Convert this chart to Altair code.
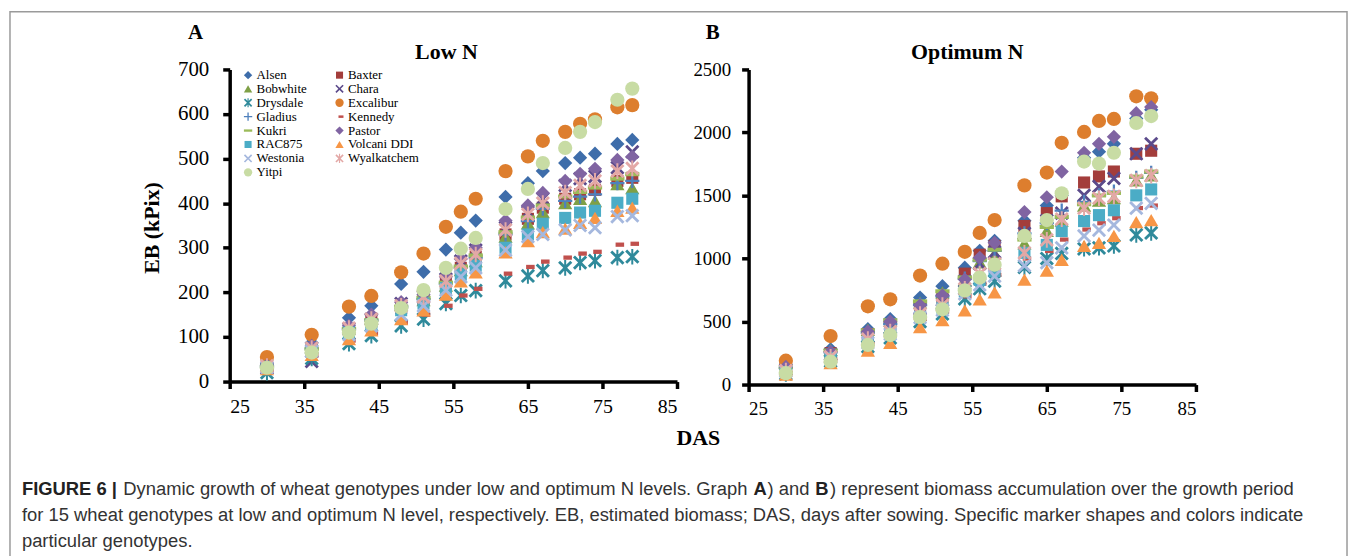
import altair as alt
import pandas as pd

# ---------------- data ----------------
das = [30, 36, 41, 44, 48, 51, 54, 56, 58, 62, 65, 67, 70, 72, 74, 77, 79]
genotypes = ["Alsen", "Baxter", "Bobwhite", "Chara", "Drysdale", "Excalibur", "Gladius",
             "Kennedy", "Kukri", "Pastor", "RAC875", "Volcani DDI", "Westonia",
             "Wyalkatchem", "Yitpi"]

# Low N (EB, kPix)
low_alsen = [38, 87, 143, 170, 219, 246, 296, 334, 361, 414, 445, 472, 490, 502, 511, 533, 542]
low_baxter = [34, 72, 115, 135, 165, 185, 220, 255, 280, 330, 365, 390, 410, 420, 430, 450, 457]
low_bobwhite = [37, 78, 122, 142, 172, 183, 215, 250, 270, 325, 355, 380, 400, 410, 405, 443, 434]
low_chara = [30, 45, 118, 140, 175, 190, 230, 270, 295, 345, 380, 410, 440, 455, 460, 480, 515]
low_drysdale = [20, 52, 85, 103, 125, 140, 175, 193, 204, 226, 237, 249, 255, 267, 271, 278, 280]
low_excalibur = [55, 105, 168, 192, 245, 287, 347, 381, 410, 472, 505, 540, 560, 578, 588, 615, 620]
low_gladius = [34, 74, 118, 138, 168, 185, 220, 255, 278, 330, 360, 388, 405, 415, 420, 445, 450]
low_kennedy = [25, 58, 92, 108, 132, 150, 170, 193, 208, 242, 257, 269, 278, 287, 291, 307, 309]
low_kukri = [33, 73, 118, 138, 168, 188, 222, 258, 283, 335, 368, 395, 415, 425, 435, 455, 465]
low_pastor = [36, 80, 125, 150, 178, 195, 235, 275, 300, 361, 395, 423, 450, 466, 477, 497, 504]
low_rac875 = [33, 70, 110, 128, 160, 175, 210, 240, 260, 300, 330, 354, 367, 379, 383, 401, 410]
low_volcani = [28, 60, 95, 115, 140, 160, 195, 225, 245, 290, 315, 335, 343, 356, 367, 383, 390]
low_westonia = [32, 68, 105, 125, 150, 170, 205, 235, 255, 295, 325, 330, 340, 350, 345, 370, 372]
low_wyalkatchem = [35, 75, 120, 140, 170, 190, 225, 265, 285, 340, 375, 400, 424, 440, 450, 472, 478]
low_yitpi = [31, 65, 110, 130, 165, 205, 255, 298, 322, 387, 432, 490, 524, 560, 582, 632, 657]

# Optimum N (EB, kPix)
opt_alsen = [150, 280, 440, 520, 690, 780, 927, 1061, 1140, 1300, 1420, 1500, 1800, 1847, 1910, 2110, 2180]
opt_baxter = [130, 250, 400, 470, 620, 690, 880, 1030, 1100, 1258, 1360, 1493, 1603, 1651, 1690, 1831, 1855]
opt_bobwhite = [145, 275, 435, 505, 650, 730, 830, 970, 1040, 1120, 1220, 1300, 1420, 1460, 1480, 1620, 1660]
opt_chara = [120, 240, 380, 450, 600, 670, 820, 960, 1050, 1200, 1300, 1360, 1501, 1572, 1635, 1831, 1910]
opt_drysdale = [85, 185, 300, 370, 500, 560, 680, 760, 820, 930, 1000, 1040, 1077, 1085, 1100, 1187, 1203]
opt_excalibur = [189, 385, 621, 676, 865, 959, 1053, 1203, 1305, 1580, 1682, 1918, 2004, 2091, 2107, 2287, 2271]
opt_gladius = [130, 255, 410, 480, 630, 700, 840, 980, 1060, 1200, 1280, 1380, 1450, 1500, 1530, 1640, 1680]
opt_kennedy = [95, 200, 320, 390, 520, 580, 700, 800, 870, 1000, 1060, 1150, 1230, 1280, 1320, 1400, 1420]
opt_kukri = [140, 270, 430, 510, 660, 740, 850, 990, 1070, 1150, 1250, 1330, 1430, 1500, 1520, 1650, 1690]
opt_pastor = [140, 260, 420, 500, 629, 707, 833, 1006, 1124, 1368, 1486, 1690, 1839, 1910, 1965, 2153, 2201]
opt_rac875 = [100, 210, 340, 410, 540, 610, 740, 830, 900, 1045, 1108, 1218, 1297, 1344, 1383, 1501, 1548]
opt_volcani = [80, 170, 270, 330, 456, 511, 589, 676, 731, 833, 904, 990, 1100, 1124, 1179, 1289, 1305]
opt_westonia = [105, 215, 330, 400, 530, 590, 720, 790, 860, 943, 967, 1085, 1179, 1226, 1265, 1399, 1438]
opt_wyalkatchem = [110, 220, 360, 420, 560, 630, 760, 880, 960, 1045, 1148, 1313, 1399, 1478, 1493, 1619, 1658]
opt_yitpi = [90, 181, 314, 393, 534, 597, 747, 849, 951, 1179, 1305, 1517, 1769, 1753, 1839, 2075, 2130]

x_ticks = [25, 35, 45, 55, 65, 75, 85]
y_ticks_low = [0, 100, 200, 300, 400, 500, 600, 700]
y_ticks_opt = [0, 500, 1000, 1500, 2000, 2500]

colors = ["#3E6DAA", "#A33D3B", "#7FA046", "#5B4A8B", "#2F8A9B", "#DD7E2E", "#4F81BD",
          "#C0504D", "#9BBB59", "#8064A2", "#4BACC6", "#F79646", "#A5B8DE",
          "#E3A8A6", "#C8DCA4"]

X_PATH = ("M-1,-0.72L-0.72,-1L0,-0.28L0.72,-1L1,-0.72L0.28,0L1,0.72L0.72,1"
          "L0,0.28L-0.72,1L-1,0.72L-0.28,0Z")
STAR_PATH = X_PATH + "M-0.14,-1.1H0.14V1.1H-0.14Z"
PLUS_PATH = "M-0.16,-1H0.16V-0.16H1V0.16H0.16V1H-0.16V0.16H-1V-0.16H-0.16Z"
SQUARE_PATH = "M-0.85,-0.85H0.85V0.85H-0.85Z"
SHORT_DASH = "M-0.25,-0.3H0.95V0.3H-0.25Z"
LONG_DASH = "M-1,-0.28H1V0.28H-1Z"
shapes = ["diamond", SQUARE_PATH, "triangle-up", X_PATH, STAR_PATH, "circle", PLUS_PATH,
          SHORT_DASH, LONG_DASH, "diamond", SQUARE_PATH, "triangle-up", X_PATH,
          STAR_PATH, "circle"]

low_series = [low_alsen, low_baxter, low_bobwhite, low_chara, low_drysdale, low_excalibur,
              low_gladius, low_kennedy, low_kukri, low_pastor, low_rac875, low_volcani,
              low_westonia, low_wyalkatchem, low_yitpi]
opt_series = [opt_alsen, opt_baxter, opt_bobwhite, opt_chara, opt_drysdale, opt_excalibur,
              opt_gladius, opt_kennedy, opt_kukri, opt_pastor, opt_rac875, opt_volcani,
              opt_westonia, opt_wyalkatchem, opt_yitpi]


def table(series):
    rows = []
    for gi, (g, vals) in enumerate(zip(genotypes, series)):
        for d, v in zip(das, vals):
            rows.append({"Genotype": g, "DAS": d, "EB": v, "idx": gi})
    return pd.DataFrame(rows)


low_df = table(low_series)
opt_df = table(opt_series)

SERIF = "Liberation Serif"
SANS = "Liberation Sans"
one = pd.DataFrame({"a": [0]})

color_scale = alt.Scale(domain=genotypes, range=colors)
shape_scale = alt.Scale(domain=genotypes, range=shapes)

legend = alt.Legend(orient="none", legendX=12, legendY=-1, columns=2, direction="horizontal",
                    title=None, labelFont=SERIF, labelFontSize=13, labelColor="black",
                    symbolSize=70, symbolStrokeWidth=0, symbolOpacity=1, labelOffset=2,
                    columnPadding=26, rowPadding=0, padding=0)


def axis_common(**kw):
    base = dict(domainColor="black", domainWidth=3.5, tickColor="black", tickWidth=3.5,
                tickSize=7, labelFont=SERIF, labelColor="black", grid=False,
                titleFont=SERIF, titleFontWeight="bold", titleColor="black",
                titleFontSize=22)
    base.update(kw)
    return alt.Axis(**base)


def text_mark(txt, x, y, size, bold=False, font=SERIF, align="left", color="black"):
    return alt.Chart(one).mark_text(
        text=txt, font=font, fontSize=size, fontWeight="bold" if bold else "normal",
        align=align, baseline="middle", color=color
    ).encode(x=alt.value(x), y=alt.value(y))


# ---------------- panel A ----------------
pts_a = alt.Chart(low_df).mark_point(filled=True, size=205, opacity=1, strokeWidth=0).encode(
    x=alt.X("DAS:Q", scale=alt.Scale(domain=[25, 85], nice=False, zero=False),
            axis=axis_common(values=x_ticks, labelFontSize=20, labelPadding=8, title="DAS",
                             titleX=471, titleY=56, titleBaseline="middle")),
    y=alt.Y("EB:Q", scale=alt.Scale(domain=[0, 700], nice=False),
            axis=axis_common(values=y_ticks_low, labelFontSize=21, labelPadding=14,
                             title="EB (kPix)", titleX=-79, titleY=159,
                             titleAngle=270, titleAlign="center", titleBaseline="middle")),
    color=alt.Color("Genotype:N", scale=color_scale, legend=legend),
    shape=alt.Shape("Genotype:N", scale=shape_scale, legend=legend),
    order=alt.Order("idx:Q"),
)

frame = alt.Chart(one).mark_rect(fillOpacity=0, stroke="#9a9a9a", strokeWidth=1.5).encode(
    x=alt.value(-221), x2=alt.value(1124), y=alt.value(-58), y2=alt.value(540))

CAP = 18.5
cap_color = "#333333"
caption = [
    text_mark("FIGURE 6 |", -209, 422, CAP, True, SANS, color="#222222"),
    text_mark("Dynamic growth of wheat genotypes under low and optimum N levels. Graph",
              -107, 422, CAP, False, SANS, color=cap_color),
    text_mark("A", 527, 422, CAP, True, SANS, color="#222222"),
    text_mark(") and", 541, 422, CAP, False, SANS, color=cap_color),
    text_mark("B", 589, 422, CAP, True, SANS, color="#222222"),
    text_mark(") represent biomass accumulation over the growth period",
              604, 422, CAP, False, SANS, color=cap_color),
    text_mark("for 15 wheat genotypes at low and optimum N level, respectively. EB, estimated "
              "biomass; DAS, days after sowing. Specific marker shapes and colors indicate",
              -209, 448, CAP, False, SANS, color=cap_color),
    text_mark("particular genotypes.", -209, 474, CAP, False, SANS, color=cap_color),
]

panel_a = alt.layer(
    frame,
    pts_a,
    text_mark("A", -42, -37, 21, True),
    text_mark("Low N", 218, -17, 22, True, align="center"),
    *caption,
).properties(width=450, height=314)

# ---------------- panel B ----------------
pts_b = alt.Chart(opt_df).mark_point(filled=True, size=205, opacity=1, strokeWidth=0).encode(
    x=alt.X("DAS:Q", scale=alt.Scale(domain=[25, 85], nice=False, zero=False),
            axis=axis_common(values=x_ticks, labelFontSize=19, labelPadding=8, title=None)),
    y=alt.Y("EB:Q", scale=alt.Scale(domain=[0, 2500], nice=False),
            axis=axis_common(values=y_ticks_opt, labelFontSize=19, labelPadding=11,
                             format="d", title=None)),
    color=alt.Color("Genotype:N", scale=color_scale, legend=None),
    shape=alt.Shape("Genotype:N", scale=shape_scale, legend=None),
    order=alt.Order("idx:Q"),
)

panel_b = alt.layer(
    pts_b,
    text_mark("B", -43, -37, 21, True),
    text_mark("Optimum N", 220, -17, 22, True, align="center"),
).properties(width=450, height=317)

chart = alt.hconcat(panel_a, panel_b, spacing=72, bounds="flush").resolve_scale(
    x="independent", y="independent", color="independent", shape="independent"
).properties(padding=0, background="white").configure_view(stroke="transparent")

chart.save("out.html", embed_options={"renderer": "svg", "actions": False})
